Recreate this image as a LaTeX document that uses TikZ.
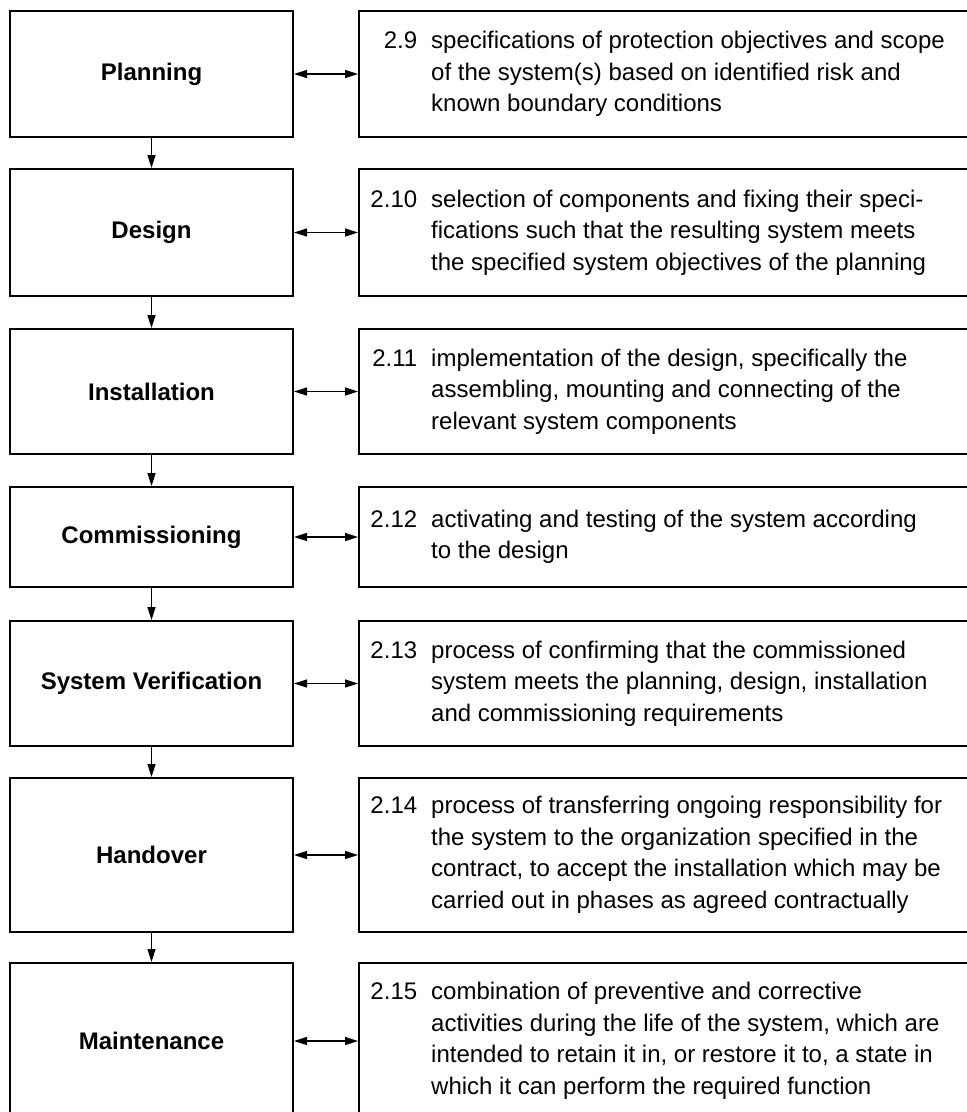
\documentclass[tikz,border=0pt]{standalone}
\usepackage{fontspec}
\setmainfont{Liberation Sans}
\usetikzlibrary{arrows.meta}
\tikzset{
  lbox/.style={draw, line width=2pt, minimum width=283pt, inner sep=0pt,
    font=\bfseries\fontsize{24}{28}\selectfont},
  rbox/.style={draw, line width=2pt, minimum width=640pt, inner sep=0pt, anchor=west},
  deftext/.style={align=left, font=\fontsize{24}{31.5}\selectfont, anchor=west, inner sep=0pt},
  flow/.style={line width=1.5pt, -{Triangle[length=13pt,width=8pt]}},
  link/.style={line width=1.5pt, {Triangle[length=13pt,width=8pt]}-{Triangle[length=13pt,width=8pt]}}
}
\newcommand{\num}[1]{\llap{#1\hspace{14pt}}}
\begin{document}
\begin{tikzpicture}[x=1pt,y=-1pt]
\useasboundingbox (0,0) rectangle (967,1112);
\clip (0,0) rectangle (967,1112);
% left column
\node[lbox, minimum height=126pt] (p1) at (151.5,74) {Planning};
\node[lbox, minimum height=127pt] (p2) at (151.5,232.5) {Design};
\node[lbox, minimum height=125pt] (p3) at (151.5,391.5) {Installation};
\node[lbox, minimum height=100pt] (p4) at (151.5,537) {Commissioning};
\node[lbox, minimum height=125pt] (p5) at (151.5,683.5) {System Verification};
\node[lbox, minimum height=154pt] (p6) at (151.5,855) {Handover};
\node[lbox, minimum height=156pt] (p7) at (151.5,1041) {Maintenance};
% right column
\node[rbox, minimum height=126pt] (d1) at (358,74) {};
\node[rbox, minimum height=127pt] (d2) at (358,232.5) {};
\node[rbox, minimum height=125pt] (d3) at (358,391.5) {};
\node[rbox, minimum height=100pt] (d4) at (358,537) {};
\node[rbox, minimum height=125pt] (d5) at (358,683.5) {};
\node[rbox, minimum height=154pt] (d6) at (358,855) {};
\node[rbox, minimum height=156pt] (d7) at (358,1041) {};
% texts
\node[deftext] (t1) at (431,74) {\num{2.9}specifications of protection objectives and scope\\of the system(s) based on identified risk and\\known boundary conditions};
\node[deftext] (t2) at (431,232.5) {\num{2.10}selection of components and fixing their speci-\\fications such that the resulting system meets\\the specified system objectives of the planning};
\node[deftext] (t3) at (431,391.5) {\num{2.11}implementation of the design, specifically the\\assembling, mounting and connecting of the\\relevant system components};
\node[deftext] (t4) at (431,537) {\num{2.12}activating and testing of the system according\\to the design};
\node[deftext] (t5) at (431,683.5) {\num{2.13}process of confirming that the commissioned\\system meets the planning, design, installation\\and commissioning requirements};
\node[deftext] (t6) at (431,855) {\num{2.14}process of transferring ongoing responsibility for\\the system to the organization specified in the\\contract, to accept the installation which may be\\carried out in phases as agreed contractually};
\node[deftext] (t7) at (431,1041) {\num{2.15}combination of preventive and corrective\\activities during the life of the system, which are\\intended to retain it in, or restore it to, a state in\\which it can perform the required function};
% connectors
\foreach \i/\j in {1/2,2/3,3/4,4/5,5/6,6/7} {
  \draw[flow] (p\i.south) -- (p\j.north);
}
\foreach \i in {1,...,7} {
  \draw[link] (p\i.east) -- (d\i.west);
}
\end{tikzpicture}
\end{document}
